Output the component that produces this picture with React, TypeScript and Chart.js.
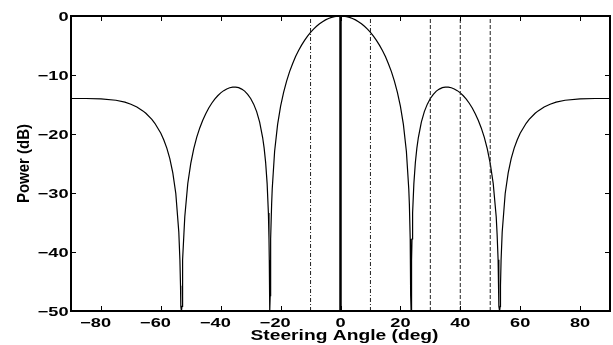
import React, { useEffect, useRef } from "react";
import { Chart, registerables } from "chart.js";

Chart.register(...registerables);

// Beam pattern samples (steering angle in degrees, power in dB)
const ANGLES = [
  -90, -85, -80, -75, -72, -70, -68, -66, -65, -63, -62, -60, -59, -58, -57, -56, -55, -54,
  -53.63, -53.43, -53.33, -53.13, -52.93, -52.83, -52.63, -52.3, -52, -51, -50,
  -49, -48, -47, -46, -45, -44, -43, -42, -41, -40, -39, -38, -37, -36, -35, -34, -33, -32, -31, -30,
  -29, -28, -27, -26, -25.5, -25, -24.5, -24.08, -23.88, -23.78, -23.68, -23.58, -23.48, -23.38, -23.28,
  -23, -22.8, -22.5, -22, -21, -20, -19, -18, -17, -16, -15, -14, -13, -12, -11, -10,
  -9, -8, -7, -6, -5, -4, -3, -2, -1,
  0,
  1, 2, 3, 4, 5, 6, 7, 8, 9, 10, 11, 12, 13, 14, 15, 16, 17, 18, 19, 20, 21, 22,
  22.5, 22.8, 23, 23.28, 23.38, 23.48, 23.58, 23.68, 23.78, 23.88, 24.08, 24.5,
  25, 25.5, 26, 27, 28, 29, 30, 31, 32, 33, 34, 35, 36, 37, 38, 39, 40,
  41, 42, 43, 44, 45, 46, 47, 48, 49, 50, 51, 52,
  52.3, 52.63, 52.83, 52.93, 53.13, 53.33, 53.43, 53.63,
  54, 55, 56, 57, 58, 59, 60, 62, 63, 65, 66, 68, 70, 72, 75, 80, 85, 90,
];
const POWER_DB = [
  -13.98, -13.98, -14.04, -14.28, -14.61, -14.95, -15.43, -16.08, -16.49, -17.52, -18.18, -19.88, -21.01, -22.4, -24.18, -26.59, -30.09, -36.6,
  -41.3, -45.7, -49.2, -50, -49.2, -45.7, -41.3, -37.0, -34.02, -28.39, -24.97,
  -22.47, -20.54, -18.97, -17.66, -16.55, -15.6, -14.79, -14.1, -13.52, -13.03, -12.65, -12.36, -12.16, -12.06, -12.05, -12.15, -12.39, -12.73, -13.27, -13.98,
  -14.94, -16.21, -18.0, -20.6, -22.4, -24.84, -28.41, -33.4, -37.8, -41.4, -47.4, -50, -47.4, -41.4, -37.8,
  -31.92, -29.31, -26.9, -22.92, -18.38, -15.29, -12.93, -11.03, -9.43, -8.08, -6.88, -5.84, -4.93, -4.12, -3.41, -2.77,
  -2.22, -1.74, -1.32, -0.96, -0.66, -0.42, -0.24, -0.1, -0.03,
  0,
  -0.03, -0.1, -0.24, -0.42, -0.66, -0.96, -1.32, -1.74, -2.22, -2.77, -3.41, -4.12, -4.93, -5.84, -6.88, -8.08, -9.43, -11.03, -12.93, -15.29, -18.38, -22.92,
  -26.9, -29.31, -31.92, -37.8, -41.4, -47.4, -50, -47.4, -41.4, -37.8, -33.4, -28.41,
  -24.84, -22.4, -20.6, -18.0, -16.21, -14.94, -13.98, -13.27, -12.73, -12.39, -12.15, -12.05, -12.06, -12.16, -12.36, -12.65, -13.03,
  -13.52, -14.1, -14.79, -15.6, -16.55, -17.66, -18.97, -20.54, -22.47, -24.97, -28.39, -34.02,
  -37.0, -41.3, -45.7, -49.2, -50, -49.2, -45.7, -41.3,
  -36.6, -30.09, -26.59, -24.18, -22.4, -21.01, -19.88, -18.18, -17.52, -16.49, -16.08, -15.43, -14.95, -14.61, -14.28, -14.04, -13.98, -13.98,
];

const STEER_ANGLES = [0];
const DASHDOT_ANGLES = [-10, 10];
const DASHED_ANGLES = [30, 40, 50];

const X_TICKS = [-80, -60, -40, -20, 0, 20, 40, 60, 80];
const Y_TICKS = [0, -10, -20, -30, -40, -50];
const X_MIN = -90;
const X_MAX = 90;
const Y_MIN = -50;
const Y_MAX = 0;
const X_TITLE = "Steering Angle (deg)";
const Y_TITLE = "Power (dB)";

const FONT_FAMILY = '"Liberation Sans", Arial, Helvetica, sans-serif';

function fmt(v: number): string {
  return v < 0 ? "\u2212" + String(Math.abs(v)) : String(v);
}

const matlabAxesPlugin = {
  id: "matlabAxes",
  afterDraw(chart: any) {
    const ctx: CanvasRenderingContext2D = chart.ctx;
    const { left, right, top, bottom } = chart.chartArea;
    const xs = chart.scales.x;
    const ys = chart.scales.y;
    ctx.save();
    ctx.strokeStyle = "#000";
    ctx.fillStyle = "#000";

    // inward tick marks on all four sides
    ctx.lineWidth = 1;
    ctx.beginPath();
    X_TICKS.forEach((v) => {
      const px = Math.round(xs.getPixelForValue(v)) + 0.5;
      ctx.moveTo(px, bottom);
      ctx.lineTo(px, bottom - 5);
      ctx.moveTo(px, top);
      ctx.lineTo(px, top + 5);
    });
    Y_TICKS.forEach((v) => {
      const py = Math.round(ys.getPixelForValue(v)) + 0.5;
      ctx.moveTo(left, py);
      ctx.lineTo(left + 5, py);
      ctx.moveTo(right, py);
      ctx.lineTo(right - 5, py);
    });
    ctx.stroke();

    // axes box
    ctx.lineWidth = 2;
    ctx.strokeRect(left, top, right - left, bottom - top);

    const sx = 1.4;
    ctx.font = `bold 13px ${FONT_FAMILY}`;
    ctx.textBaseline = "alphabetic";

    // x tick labels (digits centred on the tick, minus hanging left)
    X_TICKS.forEach((v) => {
      const px = xs.getPixelForValue(v);
      const digitsW = ctx.measureText(String(Math.abs(v))).width * sx;
      ctx.save();
      ctx.translate(px + digitsW / 2, bottom + 16);
      ctx.scale(sx, 1);
      ctx.textAlign = "right";
      ctx.fillText(fmt(v), 0, 0);
      ctx.restore();
    });

    // y tick labels
    Y_TICKS.forEach((v) => {
      const py = ys.getPixelForValue(v);
      ctx.save();
      ctx.translate(left - 2.5, py + 4.5);
      ctx.scale(sx, 1);
      ctx.textAlign = "right";
      ctx.fillText(fmt(v), 0, 0);
      ctx.restore();
    });

    // x axis title
    ctx.save();
    ctx.font = `bold 14px ${FONT_FAMILY}`;
    const tw = ctx.measureText(X_TITLE).width;
    const tsx = 188 / tw;
    ctx.translate(344.5, bottom + 28.5);
    ctx.scale(tsx, 1);
    ctx.textAlign = "center";
    ctx.fillText(X_TITLE, 0, 0);
    ctx.restore();

    // y axis title
    ctx.save();
    ctx.font = `bold 15px ${FONT_FAMILY}`;
    ctx.translate(28.5, (top + bottom) / 2);
    ctx.rotate(-Math.PI / 2);
    ctx.scale(1, 1.15);
    ctx.textAlign = "center";
    ctx.fillText(Y_TITLE, 0, 0);
    ctx.restore();

    ctx.restore();
  },
};

export default function App() {
  const canvasRef = useRef<HTMLCanvasElement | null>(null);

  useEffect(() => {
    const canvas = canvasRef.current;
    if (!canvas) return;

    const verticalLine = (a: number, dash: number[], width: number, color: string) => ({
      data: [
        { x: a, y: Y_MIN },
        { x: a, y: Y_MAX },
      ],
      borderColor: color,
      borderWidth: width,
      borderDash: dash,
      pointRadius: 0,
      fill: false,
    });

    const datasets: any[] = [
      ...DASHDOT_ANGLES.map((a) => verticalLine(a, [4, 2, 1, 2], 1, "#222")),
      ...DASHED_ANGLES.map((a) => verticalLine(a, [4, 2], 1, "#222")),
      ...STEER_ANGLES.map((a) => verticalLine(a, [], 2.5, "#000")),
      {
        label: "Power",
        data: ANGLES.map((a, i) => ({ x: a, y: POWER_DB[i] })),
        borderColor: "#000",
        borderWidth: 1.2,
        pointRadius: 0,
        tension: 0,
        fill: false,
      },
    ];

    const chart = new Chart(canvas, {
      type: "line",
      data: { datasets },
      options: {
        animation: false,
        responsive: false,
        devicePixelRatio: 1,
        layout: { padding: { left: 71, top: 16, right: 3, bottom: 34 } },
        plugins: { legend: { display: false }, tooltip: { enabled: false } },
        scales: {
          x: { type: "linear", min: X_MIN, max: X_MAX, display: false },
          y: { type: "linear", min: Y_MIN, max: Y_MAX, display: false },
        },
      },
      plugins: [matlabAxesPlugin],
    });

    return () => chart.destroy();
  }, []);

  return (
    <div style={{ position: "absolute", left: 0, top: 0, width: 613, height: 345, background: "#fff" }}>
      <canvas ref={canvasRef} width={613} height={345} />
    </div>
  );
}
